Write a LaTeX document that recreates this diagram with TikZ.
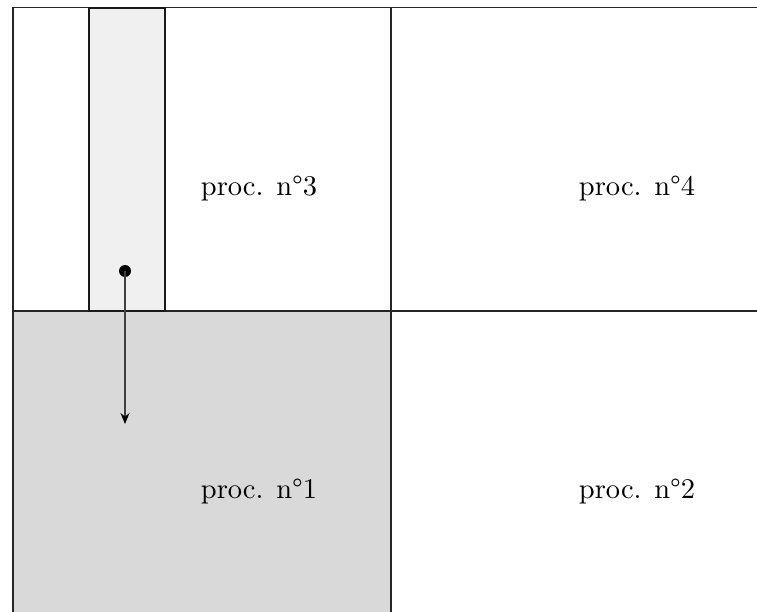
\documentclass[tikz,border=0pt]{standalone}
\usepackage{fontspec}
\usepackage{graphicx}
\usetikzlibrary{arrows.meta}
\newcommand{\bigtxt}[1]{\scalebox{2.85}{\fontsize{10}{12}\selectfont #1}}
\begin{document}
\begin{tikzpicture}[x=1pt,y=-1pt,
  cell/.style={draw=black!85,line width=1.5pt,minimum width=378pt,minimum height=303pt,inner sep=0pt,anchor=north west},
  lbl/.style={inner sep=0pt},
  strip/.style={draw=black!90,line width=1.6pt,fill=black!6,minimum width=76pt,minimum height=303pt,inner sep=0pt,anchor=north west}]
\useasboundingbox (0,0) rectangle (757,612);
\clip (0,0) rectangle (757,612);
\node[cell] (c3) at (12,7) {};
\node[cell] (c4) at (390,7) {};
\node[cell,fill=black!15] (c1) at (12,310) {};
\node[cell] (c2) at (390,310) {};
\node[strip] (s) at (88,7) {};
\node[lbl] (t3) at (259,189) {\bigtxt{proc. n°3}};
\node[lbl] (t4) at (637,189) {\bigtxt{proc. n°4}};
\node[lbl] (t1) at (259,492) {\bigtxt{proc. n°1}};
\node[lbl] (t2) at (637,492) {\bigtxt{proc. n°2}};
\fill (125,271) circle (6pt);
\coordinate (a) at (125,271);
\coordinate (b) at (125,424);
\draw[line width=1.1pt,black!75,-{Stealth[length=11pt,width=9pt,black]}] (a) -- (b);
\end{tikzpicture}
\end{document}
